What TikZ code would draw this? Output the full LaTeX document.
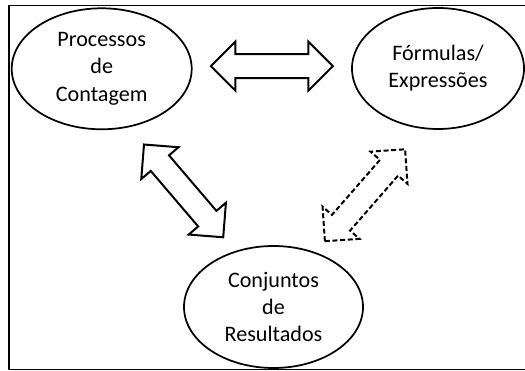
\documentclass[tikz,border=0pt]{standalone}
\usepackage{fontspec}
\setmainfont{Carlito}
\usetikzlibrary{shapes.geometric,calc}
\tikzset{
	bubble/.style={draw,line width=1.3pt,ellipse,inner sep=0pt,align=center,font=\fontsize{16.6}{20.3}\selectfont},
	blockarrow/.style={line width=1.5pt,line join=miter,fill=white},
	dashedarrow/.style={blockarrow,line cap=butt,dash pattern=on 3.75pt off 2pt},
	dblarrow/.pic={\draw[pic actions] (-61,0) -- (-36.5,24.5) -- (-36.5,12) -- (36.5,12) -- (36.5,24.5) -- (61,0) -- (36.5,-24.5) -- (36.5,-12) -- (-36.5,-12) -- (-36.5,-24.5) -- cycle;}
}
\begin{document}
\begin{tikzpicture}[line cap=round,line join=round,x=0.75pt,y=0.75pt]
			\useasboundingbox (0,0) rectangle (525,371);
			\clip (0,0) rectangle (525,371);
			\draw [line width=1pt] (9,365.3) rectangle (540,1.5);
			\node [bubble,minimum width=135pt,minimum height=90.75pt] (proc) at (101.7,302.2) {Processos\\de\\Contagem};
			\node [bubble,minimum width=129pt,minimum height=90.75pt] (form) at (438,302.5) {Fórmulas/\\Expressões};
			\node [bubble,minimum width=134.25pt,minimum height=91.5pt] (conj) at (273.5,64) {Conjuntos\\de\\Resultados};
			\pic [blockarrow] at ($(proc)!.5!(form)+(2,2.5)$) {dblarrow};
			\pic [blockarrow,rotate=-49.5] at ($(proc)!.5!(conj)+(-4,-3)$) {dblarrow};
			\pic [dashedarrow,rotate=48.9] at ($(form)!.5!(conj)+(9.25,-7.5)$) {dblarrow};
\end{tikzpicture}
\end{document}
